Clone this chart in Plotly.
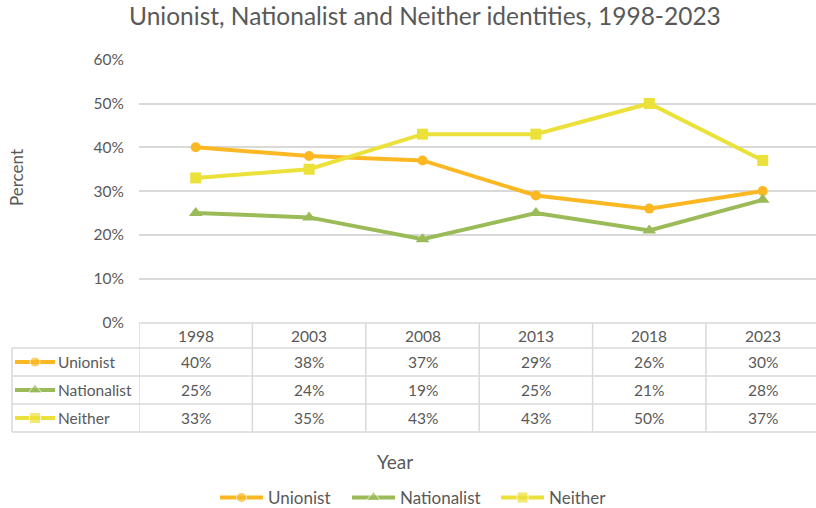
import plotly.graph_objects as go

# Survey data: share identifying as Unionist / Nationalist / Neither
years = ["1998", "2003", "2008", "2013", "2018", "2023"]
unionist = [0.40, 0.38, 0.37, 0.29, 0.26, 0.30]
nationalist = [0.25, 0.24, 0.19, 0.25, 0.21, 0.28]
neither = [0.33, 0.35, 0.43, 0.43, 0.50, 0.37]

series_names = ["Unionist", "Nationalist", "Neither"]
series_values = [unionist, nationalist, neither]
y_ticks = [0, 0.1, 0.2, 0.3, 0.4, 0.5, 0.6]

W, H = 816, 508
colors = ["#FBB823", "#9BBB59", "#ECE13A"]
symbols = ["circle", "triangle-up", "square"]
marker_sizes = [10, 12, 11]
text_grey = "#595959"
grid_grey = "#D9D9D9"
FONT = "Lato"


def px(x):
    return x / W


def py(y):
    return 1 - y / H


fig = go.Figure()

for name, vals, col, sym, ms in zip(series_names, series_values, colors, symbols, marker_sizes):
    fig.add_trace(go.Scatter(
        x=years, y=vals, name=name, mode="lines+markers",
        line=dict(color=col, width=4),
        marker=dict(symbol=sym, size=ms, color=col),
        cliponaxis=False, showlegend=False,
    ))


def add_key(x0, x1, yc, col, sym, ms):
    """Short line with a centred marker, used as a series key."""
    fig.add_trace(go.Scatter(
        x=[x0, (x0 + x1) / 2, x1], y=[yc, yc, yc], xaxis="x2", yaxis="y2",
        mode="lines+markers", line=dict(color=col, width=4),
        marker=dict(symbol=sym, size=[0, ms, 0], color=col),
        showlegend=False, hoverinfo="skip",
    ))


# Data table below the plot area
plot_left = 139
row_edges = [323, 348, 376, 404, 432]
row_centers = [(row_edges[i] + row_edges[i + 1]) / 2 for i in range(4)]
shapes = []
line_style = dict(color=grid_grey, width=1.5)

shapes.append(dict(type="line", xref="paper", yref="paper", x0=px(plot_left), x1=1,
                   y0=py(row_edges[0]), y1=py(row_edges[0]), line=line_style))
for e in row_edges[1:]:
    shapes.append(dict(type="line", xref="paper", yref="paper", x0=px(12), x1=1,
                       y0=py(e), y1=py(e), line=line_style))
for i in range(len(years)):
    shapes.append(dict(type="line", xref="x", yref="paper", x0=i - 0.5, x1=i - 0.5,
                       y0=py(row_edges[0]), y1=py(row_edges[-1]), line=line_style))
shapes.append(dict(type="line", xref="paper", yref="paper", x0=px(12), x1=px(12),
                   y0=py(row_edges[1]), y1=py(row_edges[-1]), line=line_style))

annotations = []
tfont = dict(family=FONT, size=15.5, color=text_grey)
for i, yr in enumerate(years):
    annotations.append(dict(x=i, y=py(row_centers[0]), xref="x", yref="paper", text=yr,
                            xanchor="center", yanchor="middle", showarrow=False, font=tfont))
for r, (name, vals, col, sym, ms) in enumerate(
        zip(series_names, series_values, colors, symbols, marker_sizes)):
    yc = row_centers[r + 1]
    for i, v in enumerate(vals):
        annotations.append(dict(x=i, y=py(yc), xref="x", yref="paper",
                                text=f"{round(v * 100)}%", xanchor="center", yanchor="middle",
                                showarrow=False, font=tfont))
    annotations.append(dict(x=px(56), y=py(yc), xref="paper", yref="paper", text=name,
                            xanchor="left", yanchor="middle", showarrow=False, font=tfont))
    add_key(15, 55, yc, col, sym, ms)

# Legend along the bottom
legend_y = 497.5
legend_text_x = [268, 400, 549]
for name, col, sym, ms, tx in zip(series_names, colors, symbols, marker_sizes, legend_text_x):
    add_key(tx - 48, tx - 5, legend_y, col, sym, ms)
    annotations.append(dict(x=px(tx - 2), y=py(legend_y), xref="paper", yref="paper", text=name,
                            xanchor="left", yanchor="middle", showarrow=False,
                            font=dict(family=FONT, size=17, color=text_grey)))

annotations.append(dict(x=px(395), y=py(461), xref="paper", yref="paper", text="Year",
                        xanchor="center", yanchor="middle", showarrow=False,
                        font=dict(family=FONT, size=19, color=text_grey)))
annotations.append(dict(x=px(16), y=py(178), xref="paper", yref="paper", text="Percent",
                        xanchor="center", yanchor="middle", textangle=-90, showarrow=False,
                        font=dict(family=FONT, size=17, color=text_grey)))
annotations.append(dict(x=px(425), y=py(16), xref="paper", yref="paper",
                        text="Unionist, Nationalist and Neither identities, 1998-2023",
                        xanchor="center", yanchor="middle", showarrow=False,
                        font=dict(family=FONT, size=24.5, color=text_grey)))

fig.update_layout(
    width=W, height=H,
    margin=dict(l=0, r=0, t=0, b=0, autoexpand=False),
    paper_bgcolor="white", plot_bgcolor="rgba(0,0,0,0)",
    font=dict(family=FONT, color=text_grey),
    xaxis=dict(type="category", domain=[px(plot_left), 1],
               range=[-0.5, -0.5 + (W - plot_left) / 113.4],
               showticklabels=False, showgrid=False, zeroline=False, ticks=""),
    yaxis=dict(domain=[py(322.5), py(59.7)], range=[0, 0.6], tickvals=y_ticks,
               tickformat=".0%", showgrid=True, gridcolor=grid_grey, gridwidth=1.5,
               zeroline=False, ticks="", ticklabelstandoff=14,
               tickfont=dict(family=FONT, size=15.5, color=text_grey)),
    xaxis2=dict(domain=[0, 1], range=[0, W], visible=False, fixedrange=True),
    yaxis2=dict(domain=[0, 1], range=[H, 0], visible=False, fixedrange=True, anchor="x2"),
    shapes=shapes, annotations=annotations,
    showlegend=False,
)

fig.write_html("out.html")
